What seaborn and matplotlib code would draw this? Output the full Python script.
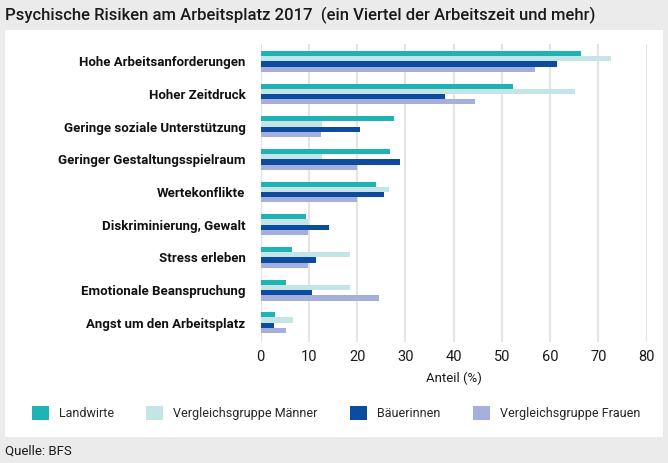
import pandas as pd
import seaborn as sns
from matplotlib import pyplot as plt
from matplotlib import font_manager
from matplotlib.patches import Rectangle, Patch

# data (Anteil in %)
categories = ['Hohe Arbeitsanforderungen', 'Hoher Zeitdruck', 'Geringe soziale Unterstützung',
              'Geringer Gestaltungsspielraum', 'Wertekonflikte', 'Diskriminierung, Gewalt',
              'Stress erleben', 'Emotionale Beanspruchung', 'Angst um den Arbeitsplatz']
groups = ['Landwirte', 'Vergleichsgruppe Männer', 'Bäuerinnen', 'Vergleichsgruppe Frauen']
landwirte = [66.3, 52.2, 27.7, 26.7, 23.9, 9.3, 6.4, 5.2, 2.9]
maenner = [72.7, 65.2, 12.7, 12.7, 26.5, 9.9, 18.5, 18.5, 6.6]
baeuerinnen = [61.5, 38.3, 20.5, 28.9, 25.6, 14.1, 11.5, 10.7, 2.7]
frauen = [56.8, 44.4, 12.4, 19.9, 19.9, 9.9, 9.8, 24.6, 5.2]
colors = ['#20b3b5', '#c3e5e5', '#0b4c9e', '#a6afdc']

df = pd.DataFrame({'Kategorie': categories * 4,
                   'Gruppe': [g for g in groups for _ in categories],
                   'Anteil': landwirte + maenner + baeuerinnen + frauen})

sns.set_style('white')
installed = {f.name for f in font_manager.fontManager.ttflist}
fam = 'Liberation Sans Narrow' if 'Liberation Sans Narrow' in installed else 'Roboto'
plt.rcParams['font.family'] = [fam, 'DejaVu Sans']

W, H = 668, 463
fig = plt.figure(figsize=(W / 100, H / 100), dpi=100, facecolor='#ebebeb')
fig.patches.append(Rectangle((5 / W, 1 - 437 / H), 658 / W, 407 / H, transform=fig.transFigure,
                             facecolor='white', edgecolor='none', zorder=-5))

ax = fig.add_axes([260.7 / W, 1 - 342 / H, 386 / W, 298 / H])
ax.set_facecolor('none')
sns.barplot(data=df, y='Kategorie', x='Anteil', hue='Gruppe', orient='h', palette=colors,
            width=0.64, dodge=True, legend=False, ax=ax, linewidth=0, saturation=1)

ax.set_xlim(0, 80)
ax.set_ylim(8.59, -0.53)
ax.set_xticks(range(0, 81, 10))
ax.grid(axis='x', color='#e4e4e4', linewidth=1.5)
ax.set_axisbelow(True)
for s in ax.spines.values():
    s.set_visible(False)
ax.tick_params(axis='x', length=0, pad=6, labelsize=10.5, labelcolor='#1a1a1a')
ax.tick_params(axis='y', length=0, pad=11, labelsize=9.5, labelcolor='#111111')
for lab in ax.get_yticklabels():
    lab.set_fontweight('bold')
ax.set_ylabel('')
ax.set_xlabel('Anteil (%)', fontsize=9.5, color='#1a1a1a', labelpad=5)

handles = [Patch(facecolor=c, edgecolor='none') for c in colors]
fig.legend(handles, groups, loc='center', bbox_to_anchor=(336 / W, 1 - 413 / H),
           bbox_transform=fig.transFigure, ncol=4, frameon=False, fontsize=9,
           handlelength=1.35, handleheight=1.35, handletextpad=0.8, columnspacing=2.6)

fig.text(5 / W, 1 - 15 / H, 'Psychische Risiken am Arbeitsplatz 2017  (ein Viertel der Arbeitszeit und mehr)',
         fontsize=12, fontweight='medium', va='center', ha='left', color='#1a1a1a')
fig.text(5 / W, 1 - 451 / H, 'Quelle: BFS', fontsize=9.5, va='center', ha='left', color='#1a1a1a')

fig.savefig('out.png', dpi=100, facecolor=fig.get_facecolor())
